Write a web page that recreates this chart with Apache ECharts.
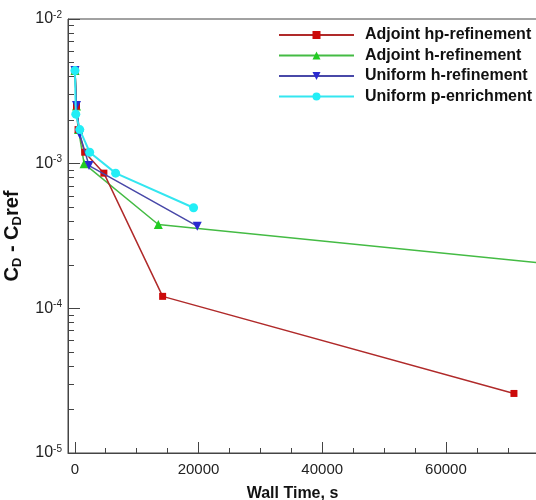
<!DOCTYPE html>
<html>
<head>
<meta charset="utf-8">
<script src="https://cdn.jsdelivr.net/npm/echarts@6/dist/echarts.min.js"></script>
<style>
  html, body { margin: 0; padding: 0; background: #fff; }
  #chart { width: 536px; height: 500px; }
</style>
</head>
<body>
<div id="chart"></div>
<script>
// Convergence of drag error against wall-clock time for four refinement strategies
const seriesNames = ['Adjoint hp-refinement', 'Adjoint h-refinement', 'Uniform h-refinement', 'Uniform p-enrichment'];

// wall time (s) and C_D error for each strategy
const hpTime  = [30, 270, 530, 1600, 4700, 14200, 71000];
const hpErr   = [4.4e-3, 2.5e-3, 1.72e-3, 1.2e-3, 8.6e-4, 1.21e-4, 2.58e-5];

const hTime   = [30, 270, 600, 1500, 13500, 100000];
const hErr    = [4.4e-3, 2.5e-3, 1.72e-3, 1.0e-3, 3.8e-4, 1.61e-4];

const uhTime  = [30, 270, 800, 2300, 19800];
const uhErr   = [4.4e-3, 2.52e-3, 1.6e-3, 9.7e-4, 3.7e-4];

const upTime  = [30, 160, 800, 2400, 6600, 19200];
const upErr   = [4.4e-3, 2.2e-3, 1.72e-3, 1.2e-3, 8.6e-4, 4.96e-4];

// axis ticks
const xMajorTicks = [0, 20000, 40000, 60000];
const xMinorTicks = [5000, 10000, 15000, 25000, 30000, 35000, 45000, 50000, 55000, 65000, 70000];
const yDecades = [1e-5, 1e-4, 1e-3, 1e-2];

function pairs(xs, ys) { return xs.map((x, i) => [x, ys[i]]); }
function yMinorTicks() {
  const out = [];
  for (let d = 0; d < yDecades.length - 1; d++) {
    for (let m = 2; m <= 9; m++) out.push(+(m * yDecades[d]).toPrecision(3));
  }
  return out;
}

const FONT = 'Liberation Sans, Arial, Helvetica, sans-serif';
const XMIN = -1100, XMAX = 75050;
const YMIN = 1e-5, YMAX = 1e-2;
const axisGray = '#444';

const chart = echarts.init(document.getElementById('chart'), null, { renderer: 'canvas' });

const option = {
  backgroundColor: '#fff',
  animation: false,
  textStyle: { fontFamily: FONT },
  grid: {
    left: 68, top: 19, right: -3, bottom: 47,
    outerBoundsMode: 'none', containLabel: false,
    show: true, borderColor: axisGray, borderWidth: 1, backgroundColor: 'transparent'
  },
  legend: {
    orient: 'vertical',
    left: 278, top: 27, padding: 0,
    itemWidth: 75, itemHeight: 10, itemGap: 4.5,
    data: seriesNames,
    textStyle: { fontFamily: FONT, fontSize: 16, fontWeight: 'bold', color: '#111', lineHeight: 16, padding: [0, 0, 0, 6] }
  },
  xAxis: [
    {
      type: 'value', min: XMIN, max: XMAX,
      name: 'Wall Time, s', nameLocation: 'middle', nameGap: 33,
      nameTextStyle: { fontFamily: FONT, fontSize: 16, fontWeight: 'bold', color: '#111', padding: [0, 22, 0, 0] },
      axisLine: { show: true, onZero: false, lineStyle: { color: axisGray, width: 1 } },
      axisTick: { show: true, inside: true, length: 11, customValues: xMajorTicks, lineStyle: { color: axisGray, width: 1 } },
      axisLabel: {
        show: true, customValues: xMajorTicks, margin: 9, fontSize: 15, color: '#222', fontFamily: FONT,
        formatter: function (v) { return String(Math.round(v)); }
      },
      splitLine: { show: false }
    },
    {
      type: 'value', min: XMIN, max: XMAX, position: 'bottom', offset: 0,
      axisLine: { show: false, onZero: false },
      axisTick: { show: true, inside: true, length: 5, customValues: xMinorTicks, lineStyle: { color: axisGray, width: 1 } },
      axisLabel: { show: false },
      splitLine: { show: false }
    }
  ],
  yAxis: [
    {
      type: 'log', logBase: 10, min: YMIN, max: YMAX,
      name: '{m|C}{sub|D}{m| - C}{sub|D}{m|ref}',
      nameLocation: 'middle', nameRotate: 90, nameGap: 43,
      nameTextStyle: {
        fontFamily: FONT, color: '#111',
        rich: {
          m: { fontSize: 20, fontWeight: 'bold', fontFamily: FONT, color: '#111', lineHeight: 24 },
          sub: { fontSize: 13, fontWeight: 'bold', fontFamily: FONT, color: '#111', lineHeight: 13, verticalAlign: 'bottom' }
        }
      },
      axisLine: { show: true, onZero: false, lineStyle: { color: axisGray, width: 1 } },
      axisTick: { show: true, inside: true, length: 12, customValues: yDecades, lineStyle: { color: axisGray, width: 1 } },
      axisLabel: {
        show: true, customValues: yDecades, margin: 6,
        formatter: function (v) {
          const e = Math.round(Math.log10(v));
          return '{b|10}{s|' + e + '}';
        },
        rich: {
          b: { fontSize: 16, fontFamily: FONT, color: '#222', lineHeight: 18 },
          s: { fontSize: 10, fontFamily: FONT, color: '#222', lineHeight: 10, verticalAlign: 'top' }
        }
      },
      splitLine: { show: false }
    },
    {
      type: 'log', logBase: 10, min: YMIN, max: YMAX, position: 'left', offset: 0,
      axisLine: { show: false, onZero: false },
      axisTick: { show: true, inside: true, length: 6, customValues: yMinorTicks(), lineStyle: { color: axisGray, width: 1 } },
      axisLabel: { show: false },
      splitLine: { show: false }
    }
  ],
  series: [
    {
      name: seriesNames[0], type: 'line', data: pairs(hpTime, hpErr),
      symbol: 'rect', symbolSize: 7, clip: true,
      lineStyle: { color: '#b02a2a', width: 1.5 },
      itemStyle: { color: '#cc0a0a' }, z: 3
    },
    {
      name: seriesNames[1], type: 'line', data: pairs(hTime, hErr),
      symbol: 'triangle', symbolSize: 9, clip: true,
      lineStyle: { color: '#44bb44', width: 1.5 },
      itemStyle: { color: '#22cc22' }, z: 2
    },
    {
      name: seriesNames[2], type: 'line', data: pairs(uhTime, uhErr),
      symbol: 'triangle', symbolRotate: 180, symbolSize: 9, clip: true,
      lineStyle: { color: '#4848a8', width: 1.5 },
      itemStyle: { color: '#2a2ad0' }, z: 4
    },
    {
      name: seriesNames[3], type: 'line', data: pairs(upTime, upErr),
      symbol: 'circle', symbolSize: 9, clip: true,
      lineStyle: { color: '#33e6f0', width: 2 },
      itemStyle: { color: '#22eef6' }, z: 5
    }
  ]
};

chart.setOption(option);
</script>
</body>
</html>
